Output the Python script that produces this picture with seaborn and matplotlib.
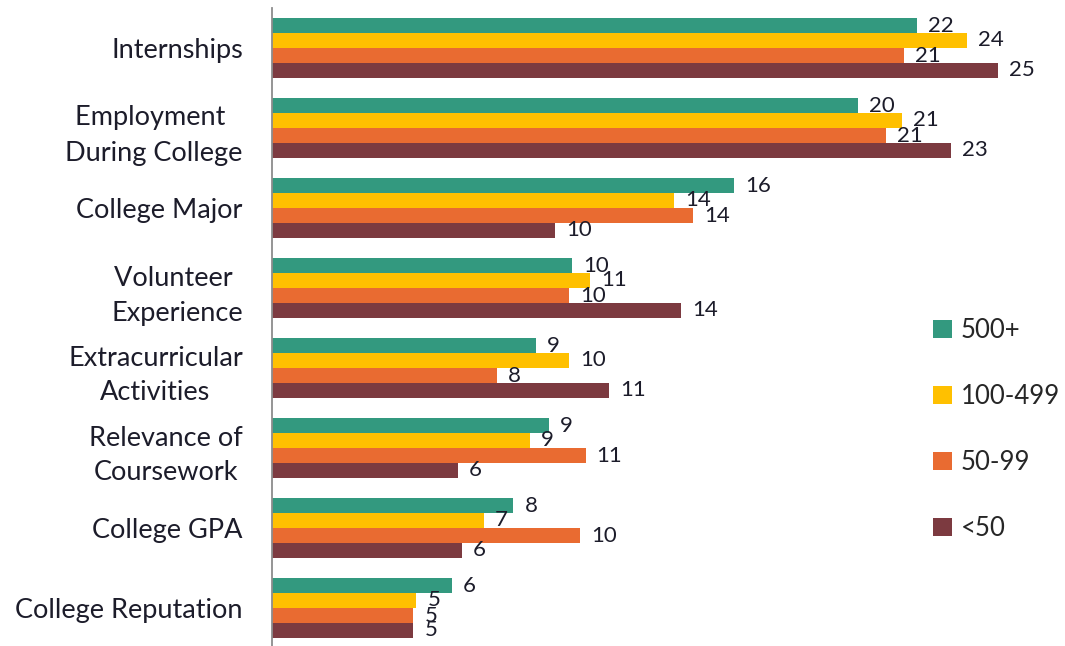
import pandas as pd
import matplotlib
matplotlib.use('Agg')
import matplotlib.pyplot as plt
import seaborn as sns

categories = ['Internships', 'Employment \nDuring College', 'College Major',
              'Volunteer \nExperience', 'Extracurricular\nActivities',
              'Relevance of\nCoursework', 'College GPA', 'College Reputation']
groups = ['500+', '100-499', '50-99', '<50']

# bar lengths (labels are the rounded numbers shown)
v_500 = [21.9, 19.9, 15.7, 10.2, 8.95, 9.4, 8.2, 6.1]
v_100 = [23.6, 21.4, 13.65, 10.8, 10.1, 8.75, 7.2, 4.9]
v_50 = [21.45, 20.85, 14.3, 10.1, 7.65, 10.65, 10.45, 4.8]
v_lt50 = [24.65, 23.05, 9.6, 13.9, 11.45, 6.3, 6.45, 4.8]

lab_500 = [22, 20, 16, 10, 9, 9, 8, 6]
lab_100 = [24, 21, 14, 11, 10, 9, 7, 5]
lab_50 = [21, 21, 14, 10, 8, 11, 10, 5]
lab_lt50 = [25, 23, 10, 14, 11, 6, 6, 5]

colors = ['#33997F', '#FFC000', '#E96B31', '#7C3A40']

rows = []
for g, vals in zip(groups, [v_500, v_100, v_50, v_lt50]):
    for c, v in zip(categories, vals):
        rows.append({'factor': c, 'size': g, 'pct': v})
df = pd.DataFrame(rows)

sns.set_style('white')
plt.rcParams['font.family'] = ['Lato', 'DejaVu Sans']

fig = plt.figure(figsize=(10.65, 6.46), dpi=100)
ax = fig.add_axes([272 / 1065, -2 / 646, 795 / 1065, 640 / 646])

sns.barplot(data=df, y='factor', x='pct', hue='size', order=categories,
            hue_order=groups, palette=colors, saturation=1, width=0.75,
            orient='h', linewidth=0, ax=ax)

for cont, labs in zip(ax.containers, [lab_500, lab_100, lab_50, lab_lt50]):
    ax.bar_label(cont, labels=[str(l) for l in labs], padding=8,
                 fontsize=16, color='#1c1c2a')

ax.set_xlim(0, 27)
ax.set_ylim(7.5, -0.5)
ax.set_xlabel('')
ax.set_ylabel('')
ax.set_xticks([])
for s in ['top', 'right', 'bottom']:
    ax.spines[s].set_visible(False)
ax.spines['left'].set_color('#8c8c8c')
ax.spines['left'].set_linewidth(1.3)

ax.set_yticks(range(len(categories)))
ax.set_yticklabels(categories, fontsize=19.5, color='#1c1c2a')
ax.tick_params(axis='y', which='major', length=0, pad=21)
ax.set_yticks([i - 0.5 for i in range(len(categories) + 1)], minor=True)
ax.tick_params(axis='y', which='minor', length=5, width=1.3, color='#8c8c8c',
               direction='out')
for t in ax.get_yticklabels():
    t.set_multialignment('center')
    t.set_linespacing(1.5)

ax.legend(loc='upper left', bbox_to_anchor=(0.864, 0.528),
          bbox_transform=fig.transFigure, frameon=False, fontsize=18.5,
          handlelength=0.72, handleheight=0.68, handletextpad=0.35,
          labelspacing=1.6, borderpad=0)

fig.savefig('out.png', dpi=100)
